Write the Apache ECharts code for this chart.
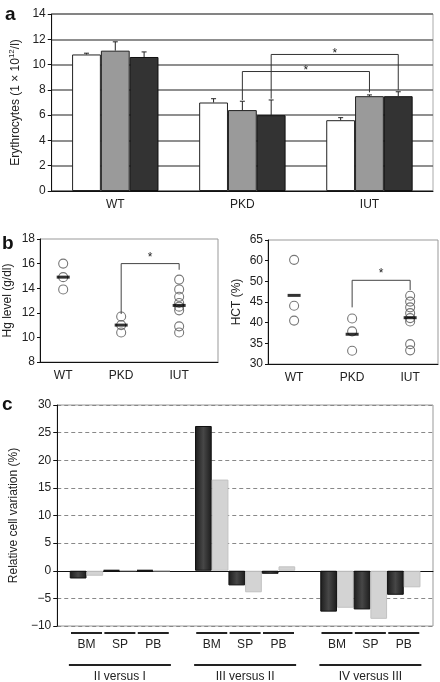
<!DOCTYPE html>
<html><head><meta charset="utf-8">
<script src="https://cdn.jsdelivr.net/npm/echarts@6/dist/echarts.min.js"></script>
<style>html,body{margin:0;padding:0;background:#fff}#c{width:440px;height:682px}</style>
</head><body><div id="c"></div>
<script>
// ---------- Panel a : erythrocytes ----------
const groupsA = ['WT', 'PKD', 'IUT'];
const eryWhite = [10.8, 7.0, 5.6];
const eryWhiteTop = [10.9, 7.3, 5.8];
const eryGray = [11.1, 6.4, 7.5];
const eryGrayTop = [11.8, 7.1, 7.6];
const eryDark = [10.6, 6.0, 7.5];
const eryDarkTop = [11.0, 7.2, 7.85];
// significance brackets: [cat1, bar1, yStart1, cat2, bar2, yEnd2, yTop]
const bracketsA = [[1, 1, 7.2, 2, 1, 7.8, 9.45], [1, 2, 7.3, 2, 2, 8.0, 10.8]];

// ---------- Panel b : Hg level and HCT ----------
const groupsB = ['WT', 'PKD', 'IUT'];
const hgWT = [16.0, 14.9, 13.9];
const hgPKD = [11.7, 11.0, 10.4];
const hgIUT = [14.7, 13.9, 13.3, 12.8, 12.5, 12.2, 10.9, 10.4];
const hgMean = [14.9, 11.0, 12.6];
// HCT values are in plotted axis units (tick labels as printed in the figure below)
const hctWT = [55.2, 44.1, 40.5];
const hctPKD = [41.0, 37.9, 33.2];
const hctIUT = [46.5, 45.1, 43.7, 42.3, 41.1, 40.3, 34.8, 33.3];
const hctMean = [46.6, 37.2, 41.2];
const hctTickLabels = ['30', '35', '40', '45', '50', '60', '65'];

// ---------- Panel c : relative cell variation ----------
const compC = ['II versus I', 'III versus II', 'IV versus III'];
const tissuesC = ['BM', 'SP', 'PB'];
const darkBM = [-1.4, 26.2, -7.4];
const lightBM = [-0.9, 16.5, -6.7];
const darkSP = [0.15, -2.65, -7.0];
const lightSP = [0.05, -3.9, -8.7];
const darkPB = [0.15, -0.55, -4.35];
const lightPB = [0.0, 0.8, -3.0];

const FONT = 'Liberation Sans, Arial, sans-serif';
const TXT = '#222';
const chart = echarts.init(document.getElementById('c'), null, {renderer: 'canvas'});

const GAP_A = 0.32, GAP_C = 0.2;

function errItem(params, api) {
  const cat = api.value(0), k = api.value(2);
  const band = api.size([1, 0])[0];
  const bw = band * (1 - GAP_A) / 3;
  const x = api.coord([cat, 0])[0] + (k - 1) * bw;
  const y0 = api.coord([cat, api.value(3)])[1];
  const y1 = api.coord([cat, api.value(4)])[1];
  return {type: 'group', children: [
    {type: 'line', shape: {x1: x, y1: y0, x2: x, y2: y1}, style: {stroke: '#222', lineWidth: 1}},
    {type: 'line', shape: {x1: x - 2.5, y1: y1, x2: x + 2.5, y2: y1}, style: {stroke: '#222', lineWidth: 1}}
  ]};
}
const errData = [];
[[eryWhite, eryWhiteTop], [eryGray, eryGrayTop], [eryDark, eryDarkTop]].forEach((pair, k) => {
  pair[0].forEach((v, i) => errData.push([i, v, k, v, pair[1][i]]));
});

function bracketItem(params, api) {
  const band = api.size([1, 0])[0];
  const bw = band * (1 - GAP_A) / 3;
  const c1 = api.value(0), k1 = api.value(1), ys = api.value(2);
  const c2 = api.value(3), k2 = api.value(4), ye = api.value(5), yt = api.value(6);
  const x1 = api.coord([c1, 0])[0] + (k1 - 1) * bw;
  const x2 = api.coord([c2, 0])[0] + (k2 - 1) * bw;
  const py1 = api.coord([c1, ys])[1], py2 = api.coord([c2, ye])[1], pt = api.coord([c1, yt])[1];
  return {type: 'group', children: [
    {type: 'polyline', shape: {points: [[x1, py1], [x1, pt], [x2, pt], [x2, py2]]}, style: {stroke: '#333', lineWidth: 1, fill: null}},
    {type: 'text', style: {x: (x1 + x2) / 2, y: pt - 1, text: '*', font: '12px ' + FONT, fill: '#222', textAlign: 'center', textVerticalAlign: 'middle'}}
  ]};
}

function starItem(params, api) {
  const p = api.coord([api.value(0), api.value(1)]);
  return {type: 'text', style: {x: p[0], y: p[1], text: '*', font: '12px ' + FONT, fill: '#222', textAlign: 'center', textVerticalAlign: 'middle'}};
}

function labelsC(params, api) {
  const cat = api.value(0);
  const band = api.size([1, 0])[0];
  const bw = band * (1 - GAP_C) / 6;
  const cx = api.coord([cat, 0])[0];
  const yb = api.coord([cat, -10])[1];
  const ch = [];
  tissuesC.forEach((t, j) => {
    const pc = cx + (j - 1) * 2 * bw;
    ch.push({type: 'line', shape: {x1: pc - 15.5, y1: yb + 7, x2: pc + 15.5, y2: yb + 7}, style: {stroke: '#222', lineWidth: 2}});
    ch.push({type: 'text', style: {x: pc, y: yb + 18.5, text: t, font: '12px ' + FONT, fill: TXT, textAlign: 'center', textVerticalAlign: 'middle'}});
  });
  ch.push({type: 'line', shape: {x1: cx - 51, y1: yb + 39, x2: cx + 51, y2: yb + 39}, style: {stroke: '#222', lineWidth: 2}});
  ch.push({type: 'text', style: {x: cx, y: yb + 50.5, text: compC[cat], font: '12px ' + FONT, fill: TXT, textAlign: 'center', textVerticalAlign: 'middle'}});
  return {type: 'group', children: ch};
}

const pts = (x, arr) => arr.map(v => [x, v]);
const circleStyle = {color: 'rgba(255,255,255,0)', borderColor: '#555', borderWidth: 1.1};
const darkGrad = new echarts.graphic.LinearGradient(0, 0, 1, 0, [
  {offset: 0, color: '#1c1c1c'}, {offset: 0.5, color: '#474747'}, {offset: 1, color: '#1c1c1c'}]);
const darkStyleC = {color: darkGrad, borderColor: '#111', borderWidth: 1};
const lightStyleC = {color: '#d3d3d3', borderColor: '#c2c2c2', borderWidth: 1};

const axisLbl = {fontSize: 12, color: TXT, fontFamily: FONT};

const option = {
  animation: false,
  textStyle: {fontFamily: FONT},
  graphic: [
    {type: 'text', left: 5, top: 5, style: {text: 'a', font: 'bold 19px ' + FONT, fill: '#111'}},
    {type: 'text', left: 2, top: 234, style: {text: 'b', font: 'bold 19px ' + FONT, fill: '#111'}},
    {type: 'text', left: 2, top: 395, style: {text: 'c', font: 'bold 19px ' + FONT, fill: '#111'}}
  ],
  grid: [
    {left: 48, top: 14, width: 385, height: 177, show: true, borderColor: '#aaa', borderWidth: 1},
    {left: 40, top: 239, width: 178, height: 123, show: true, borderColor: '#999', borderWidth: 1},
    {left: 268, top: 240, width: 170, height: 124, show: true, borderColor: '#999', borderWidth: 1},
    {left: 48, top: 405, width: 385, height: 221, show: true, borderColor: '#999', borderWidth: 1}
  ],
  xAxis: [
    {type: 'category', gridIndex: 0, data: groupsA,
     axisLine: {lineStyle: {color: '#111'}}, axisTick: {length: 4, lineStyle: {color: '#111'}},
     axisLabel: Object.assign({margin: 8}, axisLbl)},
    {type: 'value', gridIndex: 1, min: 0.6, max: 3.67, splitLine: {show: false},
     axisLine: {lineStyle: {color: '#111'}}, axisTick: {show: false},
     axisLabel: Object.assign({margin: 8, customValues: [1, 2, 3], formatter: v => groupsB[Math.round(v) - 1]}, axisLbl)},
    {type: 'value', gridIndex: 2, min: 0.55, max: 3.48, splitLine: {show: false},
     axisLine: {lineStyle: {color: '#111'}}, axisTick: {show: false},
     axisLabel: Object.assign({margin: 8, customValues: [1, 2, 3], formatter: v => groupsB[Math.round(v) - 1]}, axisLbl)},
    {type: 'category', gridIndex: 3, data: compC,
     axisLine: {onZero: true, lineStyle: {color: '#111'}}, axisTick: {show: false}, axisLabel: {show: false}}
  ],
  yAxis: [
    {type: 'value', gridIndex: 0, min: 0, max: 14, interval: 2,
     axisLine: {show: true, lineStyle: {color: '#111'}}, axisTick: {show: true, length: 4, lineStyle: {color: '#111'}},
     splitLine: {lineStyle: {color: '#6a6a6a', width: 1.6}}, axisLabel: Object.assign({margin: 6}, axisLbl),
     name: 'Erythrocytes (1 × 10{sup|12}/l)', nameLocation: 'middle', nameGap: 27,
     nameTextStyle: {fontSize: 12, color: TXT, fontFamily: FONT, rich: {sup: {fontSize: 8, padding: [0, 0, 7, 0], fontFamily: FONT, color: TXT}}}},
    {type: 'value', gridIndex: 1, min: 8, max: 18, interval: 2,
     axisLine: {show: true, lineStyle: {color: '#111'}}, axisTick: {show: true, length: 3, lineStyle: {color: '#111'}},
     splitLine: {show: false}, axisLabel: Object.assign({margin: 5}, axisLbl),
     name: 'Hg level (g/dl)', nameLocation: 'middle', nameGap: 26, nameTextStyle: {fontSize: 12, color: TXT, fontFamily: FONT}},
    {type: 'value', gridIndex: 2, min: 30, max: 60, interval: 5,
     axisLine: {show: true, lineStyle: {color: '#111'}}, axisTick: {show: true, length: 3, lineStyle: {color: '#111'}},
     splitLine: {show: false},
     axisLabel: Object.assign({margin: 5, formatter: v => hctTickLabels[Math.round((v - 30) / 5)]}, axisLbl),
     name: 'HCT (%)', nameLocation: 'middle', nameGap: 25, nameTextStyle: {fontSize: 12, color: TXT, fontFamily: FONT}},
    {type: 'value', gridIndex: 3, min: -10, max: 30, interval: 5,
     axisLine: {show: true, lineStyle: {color: '#111'}}, axisTick: {show: true, length: 4, lineStyle: {color: '#111'}},
     splitLine: {lineStyle: {color: '#888', type: [4, 3], width: 1}},
     axisLabel: Object.assign({margin: 6, formatter: v => v < 0 ? '\u2212' + Math.abs(v) : String(v)}, axisLbl),
     name: 'Relative cell variation (%)', nameLocation: 'middle', nameGap: 35, nameTextStyle: {fontSize: 12, color: TXT, fontFamily: FONT}}
  ],
  series: [
    // panel a bars
    {type: 'bar', xAxisIndex: 0, yAxisIndex: 0, data: eryWhite, barGap: '0%', barCategoryGap: (GAP_A * 100) + '%',
     itemStyle: {color: '#ffffff', borderColor: '#222', borderWidth: 1}},
    {type: 'bar', xAxisIndex: 0, yAxisIndex: 0, data: eryGray, itemStyle: {color: '#9a9a9a', borderColor: '#222', borderWidth: 1}},
    {type: 'bar', xAxisIndex: 0, yAxisIndex: 0, data: eryDark, itemStyle: {color: '#333333', borderColor: '#111', borderWidth: 1}},
    {type: 'custom', xAxisIndex: 0, yAxisIndex: 0, data: errData, renderItem: errItem, z: 5, clip: false},
    {type: 'custom', xAxisIndex: 0, yAxisIndex: 0, data: bracketsA, renderItem: bracketItem, z: 6, clip: false},
    // panel b left
    {type: 'scatter', xAxisIndex: 1, yAxisIndex: 1, symbol: 'circle', symbolSize: 9, itemStyle: circleStyle,
     data: pts(1, hgWT).concat(pts(2, hgPKD), pts(3, hgIUT))},
    {type: 'scatter', xAxisIndex: 1, yAxisIndex: 1, symbol: 'rect', symbolSize: [13, 3], itemStyle: {color: '#000'}, z: 4,
     data: hgMean.map((v, i) => [i + 1, v])},
    {type: 'line', xAxisIndex: 1, yAxisIndex: 1, symbol: 'none', lineStyle: {color: '#444', width: 1},
     data: [[2, 11.9], [2, 16.0], [3, 16.0], [3, 15.5]]},
    {type: 'custom', xAxisIndex: 1, yAxisIndex: 1, renderItem: starItem, data: [[2.5, 16.45]], clip: false},
    // panel b right
    {type: 'scatter', xAxisIndex: 2, yAxisIndex: 2, symbol: 'circle', symbolSize: 9, itemStyle: circleStyle,
     data: pts(1, hctWT).concat(pts(2, hctPKD), pts(3, hctIUT))},
    {type: 'scatter', xAxisIndex: 2, yAxisIndex: 2, symbol: 'rect', symbolSize: [13, 3], itemStyle: {color: '#000'}, z: 4,
     data: hctMean.map((v, i) => [i + 1, v])},
    {type: 'line', xAxisIndex: 2, yAxisIndex: 2, symbol: 'none', lineStyle: {color: '#444', width: 1},
     data: [[2, 43.7], [2, 50.25], [3, 50.25], [3, 47.9]]},
    {type: 'custom', xAxisIndex: 2, yAxisIndex: 2, renderItem: starItem, data: [[2.5, 51.8]], clip: false},
    // panel c bars
    {type: 'bar', xAxisIndex: 3, yAxisIndex: 3, data: darkBM, barGap: '0%', barCategoryGap: (GAP_C * 100) + '%', itemStyle: darkStyleC},
    {type: 'bar', xAxisIndex: 3, yAxisIndex: 3, data: lightBM, itemStyle: lightStyleC},
    {type: 'bar', xAxisIndex: 3, yAxisIndex: 3, data: darkSP, itemStyle: darkStyleC},
    {type: 'bar', xAxisIndex: 3, yAxisIndex: 3, data: lightSP, itemStyle: lightStyleC},
    {type: 'bar', xAxisIndex: 3, yAxisIndex: 3, data: darkPB, itemStyle: darkStyleC},
    {type: 'bar', xAxisIndex: 3, yAxisIndex: 3, data: lightPB, itemStyle: lightStyleC},
    {type: 'custom', xAxisIndex: 3, yAxisIndex: 3, renderItem: labelsC, data: [[0, -10], [1, -10], [2, -10]], clip: false}
  ]
};
chart.setOption(option);
</script></body></html>
